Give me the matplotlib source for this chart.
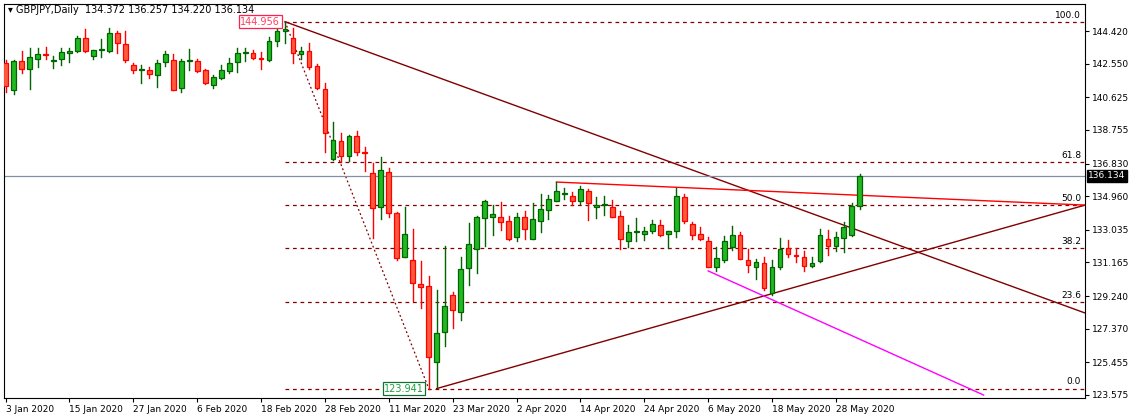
import matplotlib.pyplot as plt
from matplotlib.patches import Rectangle

# daily GBPJPY candles, 3 Jan 2020 .. 2 Jun 2020
opens = [142.61, 141.04, 142.70, 142.26, 142.80, 143.10, 142.72, 142.80, 143.14, 143.26,
         144.00, 142.99, 143.33, 143.29, 144.29, 143.66, 142.45, 142.19, 142.17, 141.88,
         142.62, 142.74, 141.17, 142.72, 142.72, 142.17, 141.31, 141.75, 142.13, 142.63,
         143.18, 143.14, 142.84, 142.78, 143.83, 144.40, 144.00, 143.08, 143.26, 142.42,
         141.08, 137.07, 138.12, 137.26, 138.41, 137.45, 136.27, 134.36, 136.36, 133.98,
         131.50, 131.30, 129.91, 129.82, 125.48, 127.20, 129.30, 128.35, 130.83, 131.92,
         133.69, 133.79, 133.75, 133.52, 132.60, 133.75, 132.49, 133.56, 134.17, 134.66,
         135.08, 134.97, 134.70, 135.24, 134.32, 134.47, 134.32, 133.82, 132.41, 132.91,
         132.79, 132.98, 133.29, 132.79, 132.95, 134.89, 133.35, 132.77, 132.37, 130.92,
         131.30, 132.07, 132.72, 131.30, 130.89, 131.11, 129.43, 130.89, 131.97, 131.57,
         131.50, 130.96, 131.25, 132.53, 132.11, 132.55, 132.72, 134.372]
highs = [142.76, 142.76, 143.27, 143.43, 143.43, 143.48, 142.99, 143.43, 143.43, 144.13,
         144.54, 143.31, 143.94, 144.59, 144.40, 144.40, 142.57, 142.47, 142.34, 142.76,
         143.26, 143.12, 142.80, 143.37, 142.80, 142.22, 141.88, 142.45, 142.89, 143.43,
         143.43, 143.33, 143.24, 144.10, 144.67, 144.956, 144.57, 143.48, 143.71, 142.53,
         141.42, 139.19, 138.56, 138.46, 138.71, 137.80, 136.88, 137.22, 136.55, 134.07,
         134.32, 133.06, 131.27, 130.41, 129.59, 132.11, 129.47, 131.46, 133.40, 133.82,
         134.74, 134.45, 134.63, 133.82, 134.02, 134.11, 134.59, 135.08, 135.05, 135.75,
         135.41, 135.22, 135.54, 135.35, 134.93, 134.97, 134.74, 134.13, 133.29, 133.69,
         133.18, 133.60, 133.60, 132.98, 135.43, 135.08, 133.48, 133.18, 132.64, 132.03,
         132.68, 133.25, 132.91, 131.95, 131.34, 131.46, 131.30, 132.55, 132.45, 131.97,
         131.84, 131.46, 133.10, 133.02, 132.93, 133.48, 134.59, 136.257]
lows = [140.95, 140.79, 141.99, 141.12, 142.38, 142.84, 142.32, 142.45, 142.62, 143.20,
        143.20, 142.80, 142.91, 143.24, 143.18, 142.66, 142.03, 141.46, 141.71, 141.23,
        142.43, 141.02, 140.91, 142.19, 142.05, 141.38, 141.16, 141.65, 142.03, 142.09,
        142.72, 142.80, 142.26, 142.72, 143.58, 143.71, 142.61, 142.80, 142.22, 141.08,
        137.51, 137.03, 136.94, 136.99, 137.32, 136.40, 132.55, 133.63, 133.79, 131.30,
        131.50, 128.97, 128.57, 123.941, 124.05, 126.40, 127.39, 127.87, 129.87, 130.58,
        132.11, 132.74, 133.02, 132.45, 132.41, 132.51, 132.49, 132.93, 133.67, 134.66,
        134.82, 134.44, 134.51, 133.60, 133.73, 133.90, 133.75, 131.92, 132.07, 132.41,
        132.45, 132.83, 132.68, 131.97, 132.64, 133.40, 132.53, 132.45, 130.89, 130.67,
        131.21, 131.88, 131.34, 130.64, 130.20, 129.59, 129.30, 130.77, 131.46, 131.21,
        130.69, 130.92, 131.19, 131.61, 131.84, 131.78, 132.68, 134.220]
closes = [141.27, 142.70, 142.26, 142.91, 143.10, 143.03, 142.73, 143.20, 143.26, 144.00,
          143.29, 143.31, 143.34, 144.29, 143.71, 142.76, 142.17, 142.20, 141.94, 142.57,
          143.10, 141.04, 142.70, 142.73, 142.15, 141.42, 141.77, 142.17, 142.61, 143.18,
          143.19, 142.86, 142.83, 143.87, 144.40, 144.52, 143.14, 143.26, 142.38, 141.17,
          138.56, 138.18, 137.28, 138.41, 137.51, 137.44, 134.26, 136.46, 133.98, 131.40,
          132.77, 130.01, 129.74, 125.73, 127.10, 128.67, 128.44, 130.77, 132.22, 133.75,
          134.66, 133.94, 133.50, 132.49, 133.75, 133.06, 133.63, 134.21, 134.78, 135.24,
          135.09, 134.70, 135.35, 134.55, 134.44, 134.48, 133.79, 132.49, 132.91, 132.92,
          132.95, 133.35, 132.76, 132.95, 134.97, 133.56, 132.76, 132.49, 130.92, 131.40,
          132.37, 132.76, 131.38, 131.00, 131.17, 129.72, 130.89, 131.92, 131.63, 131.56,
          130.96, 131.11, 132.72, 132.11, 132.60, 133.18, 134.40, 136.134]

date_ticks = [0, 8, 16, 24, 32, 40, 48, 56, 64, 72, 80, 88, 96, 104]
date_labels = ["3 Jan 2020", "15 Jan 2020", "27 Jan 2020", "6 Feb 2020", "18 Feb 2020",
               "28 Feb 2020", "11 Mar 2020", "23 Mar 2020", "2 Apr 2020", "14 Apr 2020",
               "24 Apr 2020", "6 May 2020", "18 May 2020", "28 May 2020"]
price_ticks = [123.575, 125.455, 127.370, 129.240, 131.165, 133.035, 134.960,
               136.830, 138.755, 140.625, 142.550, 144.420]

swing_high, high_bar = 144.956, 35
swing_low, low_bar = 123.941, 53
fib_levels = [0.0, 23.6, 38.2, 50.0, 61.8, 100.0]

x_right = 135.2
dark_red = "#800000"

fig = plt.figure(figsize=(11.45, 4.18), dpi=100)
ax = fig.add_axes([4 / 1145, 20 / 418, 1081 / 1145, 394 / 418])
ax.set_xlim(-0.2, x_right)
ax.set_ylim(123.40, 145.97)

# fibonacci levels
for lv in fib_levels:
    p = swing_low + (swing_high - swing_low) * lv / 100
    ax.plot([high_bar, x_right], [p, p], color=dark_red, lw=0.9, ls=(0, (3, 3)))
    ax.text(x_right - 0.5, p + 0.12, f"{lv:.1f}", ha="right", va="bottom", fontsize=6.5)
ax.plot([high_bar, low_bar], [swing_high, swing_low], color=dark_red, lw=0.9, ls=(0, (1.5, 2)))

# trend lines
ax.plot([high_bar, x_right], [swing_high, 128.27], color=dark_red, lw=1)
ax.plot([low_bar + 1, x_right], [swing_low, 134.45], color=dark_red, lw=1)
ax.plot([69, x_right], [135.77, 134.45], color="red", lw=1)
ax.plot([88, 122.5], [130.68, 123.57], color="magenta", lw=1)

# current price line
ax.axhline(closes[-1], color="#8090a0", lw=0.9)

for i, (o, h, l, c) in enumerate(zip(opens, highs, lows, closes)):
    up = c >= o
    edge = "#006400" if up else "#ff0000"
    fill = "#22b822" if up else "#ff5a3c"
    ax.plot([i, i], [l, h], color=edge, lw=1, zorder=3)
    ax.add_patch(Rectangle((i - 0.3, min(o, c)), 0.6, max(abs(c - o), 0.04),
                           facecolor=fill, edgecolor=edge, lw=0.9, zorder=4))

ax.text(high_bar - 0.6, swing_high, f"{swing_high:.3f}", ha="right", va="center",
        fontsize=7, color="#ff4060",
        bbox=dict(boxstyle="square,pad=0.15", fc="white", ec="#ff2050", lw=0.9))
ax.text(low_bar - 0.6, swing_low, f"{swing_low:.3f}", ha="right", va="center",
        fontsize=7, color="#20a040",
        bbox=dict(boxstyle="square,pad=0.15", fc="white", ec="#107030", lw=0.9))

ax.text(0.3, 145.6, "\u25be GBPJPY,Daily  134.372 136.257 134.220 136.134",
        fontsize=7, va="center")

ax.yaxis.tick_right()
ax.set_yticks(price_ticks)
ax.set_yticklabels([f"{t:.3f}" for t in price_ticks], fontsize=6.5)
ax.set_xticks(date_ticks)
ax.set_xticklabels(date_labels, fontsize=6.5, ha="left")
ax.tick_params(length=3, width=0.8, pad=2)
ax.text(1.003, closes[-1], f"{closes[-1]:.3f}", transform=ax.get_yaxis_transform(),
        fontsize=6.5, color="white", va="center", ha="left",
        bbox=dict(boxstyle="square,pad=0.15", fc="black", ec="black"))
for s in ax.spines.values():
    s.set_linewidth(0.8)

fig.savefig("out.png", dpi=100)
